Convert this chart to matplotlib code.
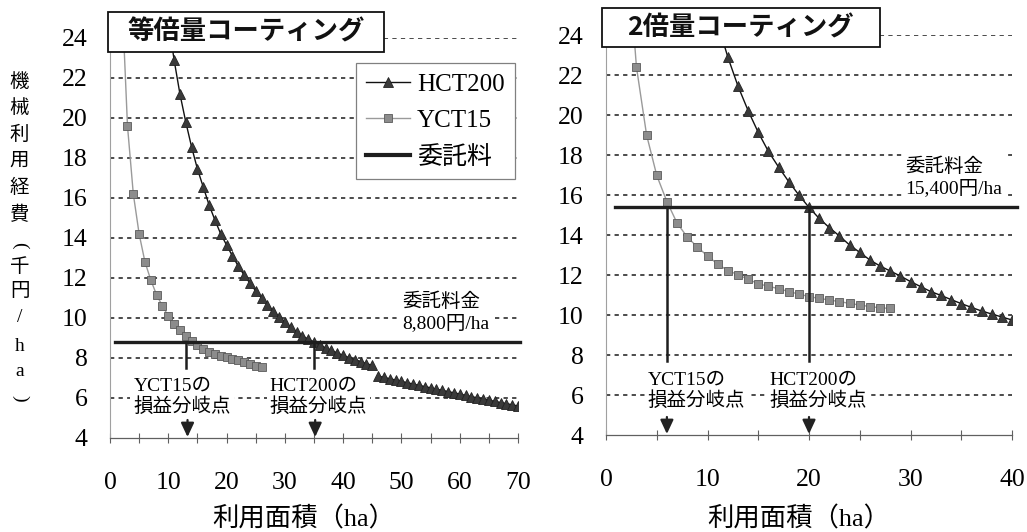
import numpy as np
import matplotlib
matplotlib.use("Agg")
import matplotlib.pyplot as plt
from matplotlib.patches import Rectangle

SERIF_JP = ['Liberation Serif', 'Noto Sans CJK JP']
GOTHIC = ['Noto Sans CJK JP', 'DejaVu Sans']
plt.rcParams['font.family'] = SERIF_JP

# ---------------- data: left panel (等倍量コーティング) ----------------
left_title = "等倍量コーティング"
left_hct_x = list(range(10, 71))
left_hct_y = [24.9, 22.9, 21.2, 19.8, 18.55, 17.45, 16.55, 15.65, 14.9, 14.2,
              13.65, 13.1, 12.6, 12.15, 11.75, 11.35, 11.0, 10.65, 10.35, 10.05,
              9.8, 9.55, 9.3, 9.1, 8.95, 8.8, 8.65, 8.5, 8.38, 8.25,
              8.13, 8.02, 7.92, 7.82, 7.72, 7.63,
              7.10, 7.03, 6.96, 6.90, 6.83, 6.76, 6.70, 6.63, 6.57, 6.51,
              6.44, 6.38, 6.32, 6.26, 6.20, 6.13, 6.07, 6.01, 5.95, 5.89,
              5.83, 5.77, 5.72, 5.66, 5.60]
left_hct_gap_after = 45          # the scanned curve is broken between 45 and 46 ha
left_yct_x = list(range(2, 27))
left_yct_y = [26.4, 19.6, 16.2, 14.2, 12.8, 11.9, 11.15, 10.6, 10.1, 9.7,
              9.4, 9.1, 8.85, 8.65, 8.45, 8.3, 8.2, 8.12, 8.05, 7.95,
              7.88, 7.8, 7.7, 7.62, 7.55]
left_fee = 8.8
left_break_yct = 13.1
left_break_hct = 35.0
left_xmax = 70
left_fee_text = "委託料金\n8,800円/ha"

# ---------------- data: right panel (2倍量コーティング) ----------------
right_title = "2倍量コーティング"
right_hct_x = list(range(11, 41))
right_hct_y = [24.6, 22.9, 21.45, 20.22, 19.13, 18.18, 17.4, 16.67, 16.0, 15.38,
               14.83, 14.37, 13.95, 13.5, 13.13, 12.75, 12.45, 12.2, 11.95, 11.67,
               11.42, 11.17, 10.98, 10.77, 10.57, 10.38, 10.2, 10.05, 9.9, 9.75]
right_yct_x = list(range(2, 29))
right_yct_y = [29.0, 22.4, 19.0, 16.98, 15.67, 14.6, 13.9, 13.4, 12.95, 12.55,
               12.22, 12.02, 11.78, 11.57, 11.43, 11.32, 11.17, 11.05, 10.92, 10.83,
               10.75, 10.67, 10.58, 10.5, 10.42, 10.36, 10.33]
right_fee = 15.4
right_break_yct = 6.0
right_break_hct = 20.0
right_xmax = 40
right_fee_text = "委託料金\n15,400円/ha"

y_ticks = list(range(4, 25, 2))
ylabel_chars = ['機', '械', '利', '用', '経', '費', '(', '千', '円', '/', 'h', 'a', ')']
ylabel_rot = [0, 0, 0, 0, 0, 0, -90, 0, 0, 0, 0, 0, -90]
xlabel = "利用面積（ha）"
legend_labels = ["HCT200", "YCT15", "委託料"]

# ---------------- styling ----------------
W, H = 1027, 532
fig = plt.figure(figsize=(W / 100, H / 100), dpi=100)
fig.patch.set_facecolor('white')

def fx(px):
    return px / W

def fy(py):
    return 1 - py / H

axL = fig.add_axes([fx(110), fy(438), 408 / W, 400 / H])
axR = fig.add_axes([fx(606), fy(435), 406 / W, 400 / H])

HCT_KW = dict(color='#111111', lw=1.0, marker='^', ms=7.5, mfc='#3a3a3a', mec='#222222', mew=0.6)
YCT_KW = dict(color='#9a9a9a', lw=1.0, marker='s', ms=6.0, mfc='#8c8c8c', mec='#5a5a5a', mew=0.6)
FEE_KW = dict(color='#1e1e1e', lw=2.4)
VERT_KW = dict(color='#1e1e1e', lw=1.8)


def style_axes(ax, xmax):
    ax.set_xlim(0, xmax)
    ax.set_ylim(4, 24)
    ax.set_yticks(y_ticks)
    ax.set_xticks(np.arange(0, xmax + 1, 10))
    ax.set_xticks(np.arange(5, xmax, 10), minor=True)
    for s in ['top', 'right']:
        ax.spines[s].set_visible(False)
    ax.spines['left'].set_color('#a0a0a0')
    ax.spines['left'].set_linewidth(0.8)
    ax.spines['bottom'].set_color('#606060')
    ax.spines['bottom'].set_linewidth(0.9)
    ax.tick_params(axis='x', which='both', direction='inout', length=7, width=0.8,
                   color='#606060', pad=21, labelsize=18.5)
    ax.tick_params(axis='y', length=0, pad=16, labelsize=18.5)
    ax.set_axisbelow(True)
    ax.yaxis.grid(True, color='#1a1a1a', lw=1.1, linestyle=(0, (2.8, 2.8)))
    ax.get_ygridlines()[0].set_visible(False)   # bottom (4) is the axis line itself
    ax.set_facecolor('none')


def arrow(ax, x):
    ax.annotate('', xy=(x, 4.05), xytext=(x, 4.9),
                arrowprops=dict(arrowstyle='-|>,head_length=0.6,head_width=0.28',
                                lw=1.6, color='#222222', mutation_scale=14,
                                shrinkA=0, shrinkB=0), zorder=6)


LABEL_BOX = dict(boxstyle='square,pad=0.15', fc='white', ec='none')
LABEL_KW = dict(fontsize=14, ha='left', va='center', linespacing=1.22, bbox=LABEL_BOX, zorder=5)

# ---- left panel ----
style_axes(axL, left_xmax)
lx = np.array(left_hct_x)
ly = np.array(left_hct_y)
m1 = lx <= left_hct_gap_after
h_hct, = axL.plot(lx[m1], ly[m1], zorder=4, **HCT_KW)
axL.plot(lx[~m1], ly[~m1], zorder=4, **HCT_KW)
h_yct, = axL.plot(left_yct_x, left_yct_y, zorder=3, **YCT_KW)
h_fee, = axL.plot([0.9, left_xmax * 1.006], [left_fee, left_fee], clip_on=False, zorder=5, **FEE_KW)
for bx in (left_break_yct, left_break_hct):
    axL.plot([bx, bx], [left_fee, 7.5], zorder=5, **VERT_KW)
    arrow(axL, bx + 0.2)
axL.text(4.0, 6.05, "YCT15の\n損益分岐点", **LABEL_KW)
axL.text(27.4, 6.05, "HCT200の\n損益分岐点", **LABEL_KW)
axL.text(50.1, 10.27, left_fee_text, **LABEL_KW)

leg = axL.legend([h_hct, h_yct, h_fee], legend_labels, loc='upper right',
                 bbox_to_anchor=(0.992, 0.937), borderaxespad=0, fontsize=18,
                 handlelength=1.75, handletextpad=0.3, labelspacing=0.55,
                 borderpad=0.4, fancybox=False, framealpha=1, edgecolor='#808080')
leg.get_frame().set_linewidth(0.9)
leg.set_zorder(7)
leg.legend_handles[2].set_linewidth(3.0)

# ---- right panel ----
style_axes(axR, right_xmax)
axR.plot(right_hct_x, right_hct_y, zorder=4, **HCT_KW)
axR.plot(right_yct_x, right_yct_y, zorder=3, **YCT_KW)
axR.plot([0.9, right_xmax * 1.012], [right_fee, right_fee], clip_on=False, zorder=5, **FEE_KW)
for bx in (right_break_yct, right_break_hct):
    axR.plot([bx, bx], [right_fee, 7.7], zorder=5, **VERT_KW)
    arrow(axR, bx)
axR.text(4.1, 6.2, "YCT15の\n損益分岐点", **LABEL_KW)
axR.text(16.1, 6.2, "HCT200の\n損益分岐点", **LABEL_KW)
axR.text(29.5, 16.9, right_fee_text, **LABEL_KW)

# ---- x labels ----
for ax, cx in ((axL, 304), (axR, 799)):
    ax.set_xlabel(xlabel, fontsize=19)
    pos = ax.get_position()
    ax.xaxis.set_label_coords((fx(cx) - pos.x0) / pos.width, (fy(506) - pos.y0) / pos.height)

# ---- title boxes ----
for (x0, y0, x1, y1), t in (((108, 11.7, 384, 51.7), left_title),
                             ((601.7, 8.3, 880, 46.7), right_title)):
    fig.add_artist(Rectangle((fx(x0), fy(y1)), (x1 - x0) / W, (y1 - y0) / H,
                             transform=fig.transFigure, fc='white', ec='#111111',
                             lw=1.3, zorder=8))
    fig.text(fx((x0 + x1) / 2), fy((y0 + y1) / 2), t, fontsize=19, fontweight='bold',
             family=GOTHIC, ha='center', va='center', zorder=9, color='#111111')

# ---- vertical y label (stacked characters) ----
ylabel_py = [81.7, 108, 135, 161.7, 188, 215, 245, 267, 291.7, 318, 346.7, 371.7, 398]
for ch, py, rot in zip(ylabel_chars, ylabel_py, ylabel_rot):
    fig.text(fx(19.5), fy(py), ch, fontsize=14, ha='center', va='center',
             rotation=rot, rotation_mode='anchor')

fig.savefig("out.png", dpi=100, facecolor='white')
